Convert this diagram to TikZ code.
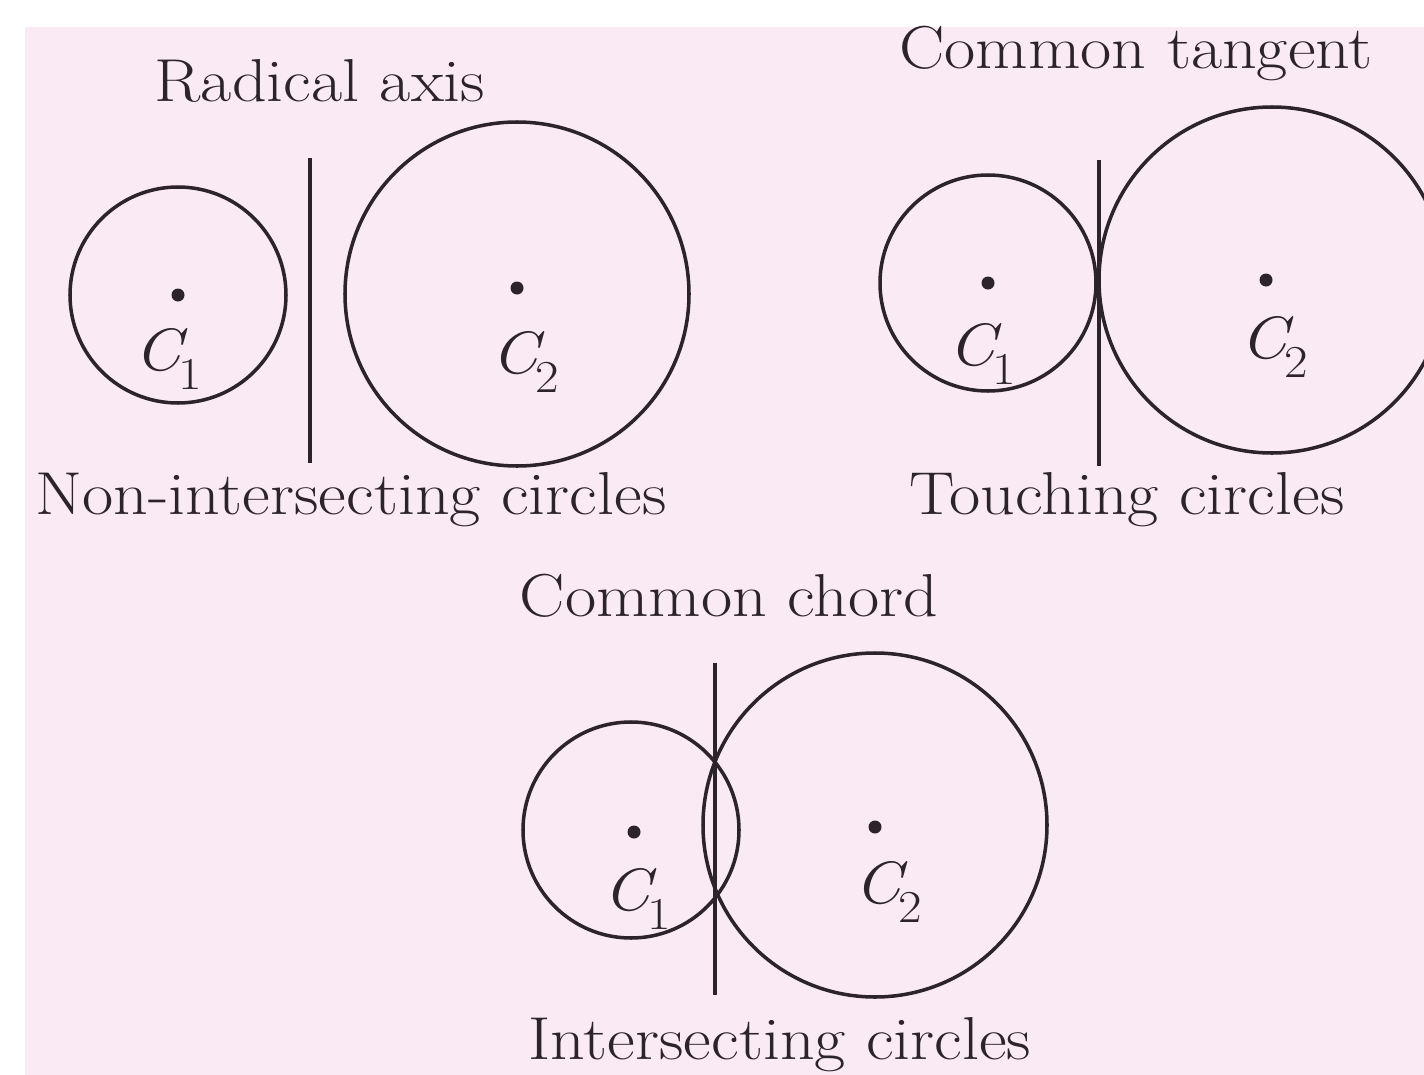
\documentclass[tikz,border=0pt]{standalone}
\usetikzlibrary{positioning}
\usepackage{xcolor}
\usepackage{fontspec}
\setmainfont{Latin Modern Roman}[FakeStretch=1.12]
\definecolor{pinkbg}{RGB}{250,234,243}
\definecolor{inkdark}{RGB}{45,35,42}
\newcommand\cname[1]{{\itshape C}\kern-0.05em\raisebox{-0.32em}{\fontsize{26}{26}\selectfont #1}}

\begin{document}
\begin{tikzpicture}[
  x=0.02cm, y=-0.02cm,
  circ/.style={draw=inkdark, line width=2pt},
  axisline/.style={draw=inkdark, line width=1.8pt},
  ctr/.style={fill=inkdark},
  title/.style={anchor=base, text=inkdark, font=\fontsize{34.5}{40}\selectfont, inner sep=0pt},
  lbl/.style={anchor=base west, text=inkdark, font=\fontsize{34}{40}\selectfont, inner sep=0pt}
]
\useasboundingbox (0,0) rectangle (1424,1075);
\clip (0,0) rectangle (1424,1075);
\fill[pinkbg] (25,27) rectangle (1424,1075);

\coordinate (a1) at (178,295);
\coordinate (a2) at (517,294);
\coordinate (atop) at (310,158);
\coordinate (abot) at (310,463);
\draw[circ] (a1) circle[radius=108];
\draw[circ] (a2) circle[radius=172];
\draw[axisline] (atop) -- (abot);
\fill[ctr] (a1) circle[radius=6.5];
\fill[ctr] (517,288) circle[radius=6.5];
\node[lbl] (a1lbl) at (134,370) {\cname{1}};
\node[lbl] (a2lbl) at (491,373) {\cname{2}};
\node[title] (radical) at (320,101) {Radical axis};
\node[title] (nonint) at (351,514) {Non-intersecting circles};

\coordinate (b1) at (988,283);
\coordinate (b2) at (1272,280);
\coordinate (btop) at (1099,160);
\coordinate (bbot) at (1099,466);
\draw[circ] (b1) circle[radius=108];
\draw[circ] (b2) circle[radius=173];
\draw[axisline] (btop) -- (bbot);
\fill[ctr] (b1) circle[radius=6.5];
\fill[ctr] (1266,280) circle[radius=6.5];
\node[lbl] (b1lbl) at (948,365) {\cname{1}};
\node[lbl] (b2lbl) at (1240,358) {\cname{2}};
\node[title] (tangent) at (1136,68) {Common tangent};
\node[title] (touch) at (1127,514) {Touching circles};

\coordinate (c1) at (631,830);
\coordinate (c2) at (875,825);
\coordinate (ctop) at (715,663);
\coordinate (cbot) at (715,995);
\draw[circ] (c1) circle[radius=108];
\draw[circ] (c2) circle[radius=172];
\draw[axisline] (ctop) -- (cbot);
\fill[ctr] (634,832) circle[radius=6.5];
\fill[ctr] (875,827) circle[radius=6.5];
\node[lbl] (c1lbl) at (603,910) {\cname{1}};
\node[lbl] (c2lbl) at (854,903) {\cname{2}};
\node[title] (chord) at (729,616) {Common chord};
\node[title] (inter) at (780,1059) {Intersecting circles};
\end{tikzpicture}
\end{document}
